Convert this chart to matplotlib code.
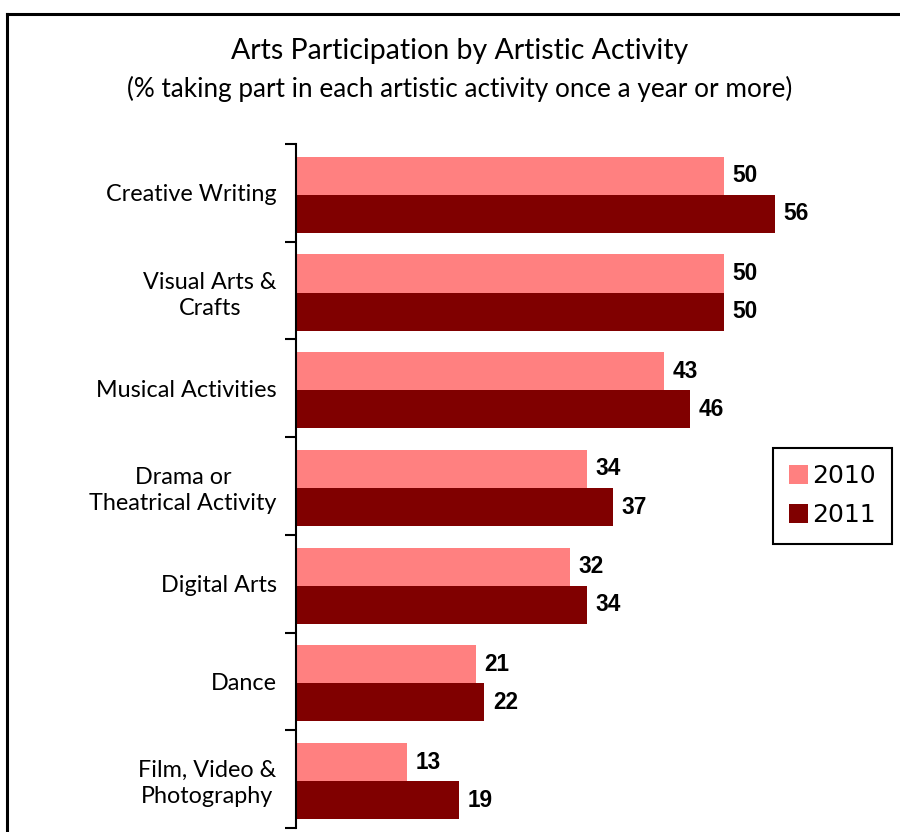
import matplotlib
matplotlib.use("Agg")
import matplotlib.pyplot as plt
from matplotlib.lines import Line2D
import numpy as np

categories = ["Creative Writing", "Visual Arts &\nCrafts", "Musical Activities",
              "Drama or\nTheatrical Activity", "Digital Arts", "Dance",
              "Film, Video &\nPhotography"]
values_2010 = [50, 50, 43, 34, 32, 21, 13]
values_2011 = [56, 50, 46, 37, 34, 22, 19]
series_labels = ["2010", "2011"]
colors = ["#FF8080", "#800000"]

W, H = 900, 832
fig = plt.figure(figsize=(W / 100, H / 100), dpi=100)
fig.patch.set_facecolor("white")

# frame lines around the chart area
fig.add_artist(Line2D([7 / W, 7 / W], [0, 1 - 14 / H], color="black", lw=2.2,
                      transform=fig.transFigure))
fig.add_artist(Line2D([7 / W, 1.0], [1 - 14 / H, 1 - 14 / H], color="black", lw=2.2,
                      transform=fig.transFigure))

ax = fig.add_axes([296 / W, 4 / H, (895 - 296) / W, (828 - 144) / H])

n = len(categories)
y = np.arange(n)
bh = 0.39
off = 0.02
b1 = ax.barh(y - bh / 2 + off, values_2010, height=bh, color=colors[0], label=series_labels[0])
b2 = ax.barh(y + bh / 2 + off, values_2011, height=bh, color=colors[1], label=series_labels[1])

for bars, vals in ((b1, values_2010), (b2, values_2011)):
    for rect, v in zip(bars, vals):
        ax.text(v + 1.0, rect.get_y() + rect.get_height() / 2, f"{v}",
                ha="left", va="center", fontsize=16.3, fontweight="bold",
                family="Liberation Sans", color="black")

ax.set_xlim(0, 70)
ax.set_ylim(n - 0.5, -0.5)

# boundary ticks between categories, labels at category centres
ax.set_yticks(np.arange(n + 1) - 0.5)
ax.set_yticklabels([])
ax.tick_params(axis="y", which="major", length=8, width=1.5, direction="out")
ax.set_yticks(y, minor=True)
ax.set_yticklabels(categories, minor=True, fontsize=16.8, family="Lato",
                   ha="right", multialignment="center", linespacing=1.3)
ax.tick_params(axis="y", which="minor", length=0, pad=14)
ax.set_xticks([])

for s in ("top", "right", "bottom"):
    ax.spines[s].set_visible(False)
ax.spines["left"].set_linewidth(1.5)

fig.text(460 / W, 1 - 51 / H, "Arts Participation by Artistic Activity", ha="center",
         va="center", fontsize=20.5, family="Lato")
fig.text(460 / W, 1 - 89 / H, "(% taking part in each artistic activity once a year or more)",
         ha="center", va="center", fontsize=18.8, family="Lato")

leg = fig.legend(handles=[b1, b2], labels=series_labels, loc="upper left",
                 bbox_to_anchor=(773 / W, 1 - 448 / H), borderaxespad=0,
                 fancybox=False, edgecolor="black", framealpha=1,
                 prop={"family": "DejaVu Sans", "size": 18},
                 handlelength=0.75, handleheight=0.75, handletextpad=0.15,
                 labelspacing=0.6, borderpad=0.65)
leg.get_frame().set_linewidth(1.5)

fig.savefig("out.png", dpi=100, facecolor="white")
